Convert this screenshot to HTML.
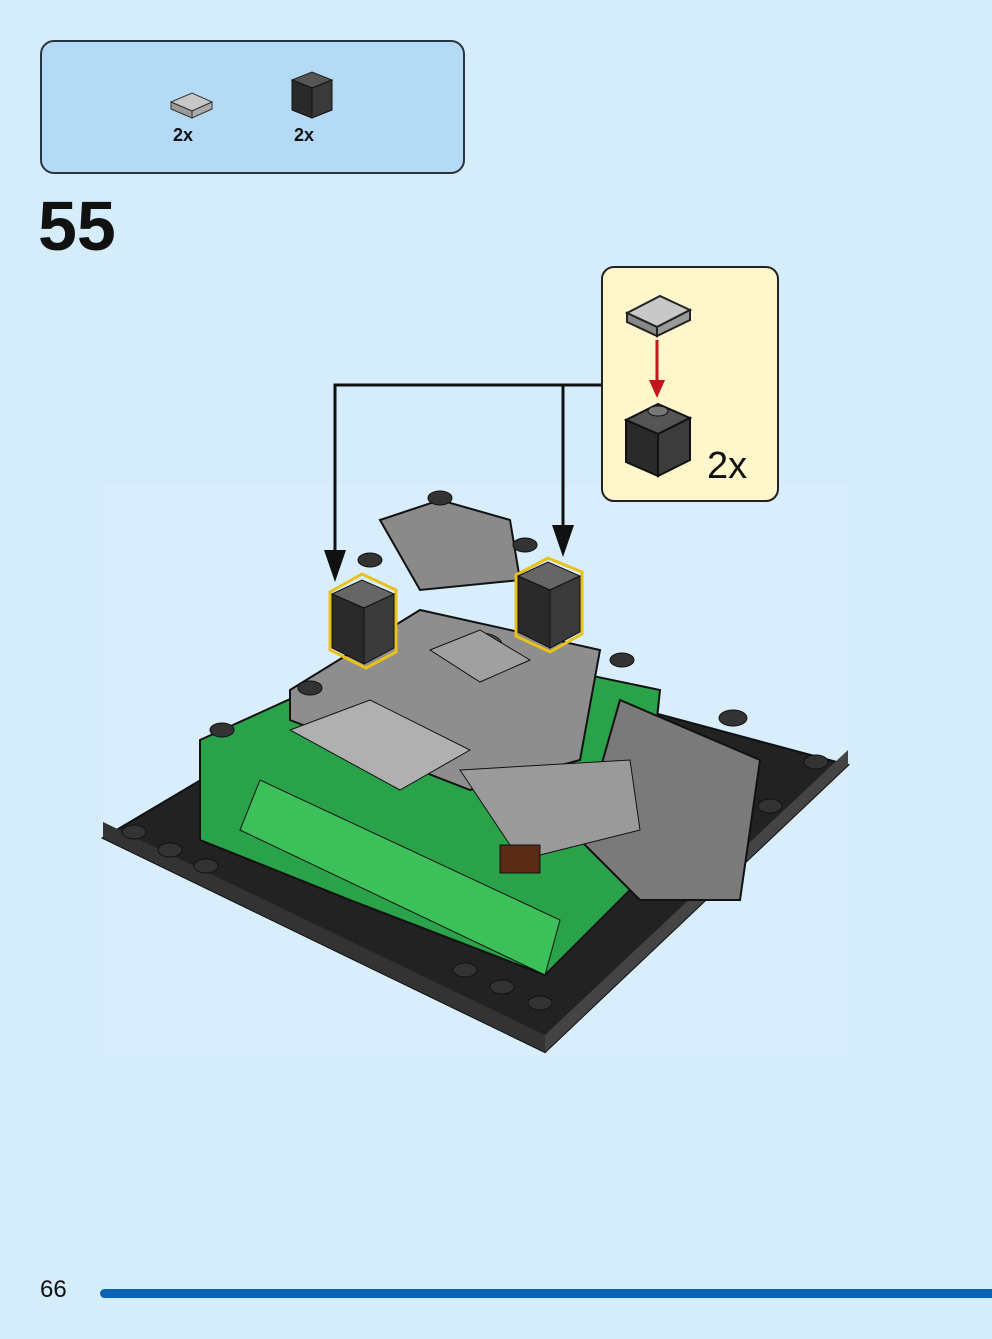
<!DOCTYPE html>
<html><head><meta charset="utf-8"><style>
html,body{margin:0;padding:0;}
body{width:992px;height:1339px;background:#d5ecfb;position:relative;overflow:hidden;font-family:"Liberation Sans",sans-serif;}
.parts{position:absolute;left:40px;top:40px;width:421px;height:130px;background:#b4daf6;border:2px solid #2a3440;border-radius:14px;}
.num{position:absolute;left:38px;top:186px;font-size:70px;font-weight:bold;color:#111;}
.pg{position:absolute;left:40px;top:1276px;font-size:24px;color:#111;}
.bar{position:absolute;left:100px;top:1289px;width:892px;height:9px;background:#0b62b4;border-radius:5px 0 0 5px;}
</style></head><body>
<div class="parts"></div>
<div class="num">55</div>
<div class="pg">66</div>
<div class="bar"></div>
<svg width="992" height="1339" style="position:absolute;left:0;top:0">
<rect x="103" y="485" width="745" height="570" fill="#d9eefc"/>
<!-- parts list icons -->
<polygon points="171,102 192,93 212,102 192,111" fill="#c8c8c8" stroke="#333"/>
<polygon points="171,102 192,111 192,118 171,109" fill="#999" stroke="#333"/>
<polygon points="192,111 212,102 212,109 192,118" fill="#aaa" stroke="#333"/>
<text x="183" y="141" font-size="18" font-weight="bold" text-anchor="middle" fill="#111">2x</text>
<polygon points="292,80 312,72 332,80 312,88" fill="#555" stroke="#222"/>
<polygon points="292,80 312,88 312,118 292,110" fill="#2a2a2a" stroke="#111"/>
<polygon points="312,88 332,80 332,110 312,118" fill="#3a3a3a" stroke="#111"/>
<text x="304" y="141" font-size="18" font-weight="bold" text-anchor="middle" fill="#111">2x</text>
<!-- callout -->
<rect x="602" y="267" width="176" height="234" rx="12" fill="#fff6cc" stroke="#222" stroke-width="2"/>
<polygon points="627,313 660,296 690,310 657,327" fill="#c8c8c8" stroke="#222" stroke-width="2"/>
<polygon points="627,313 657,327 657,336 627,322" fill="#888" stroke="#222" stroke-width="2"/>
<polygon points="657,327 690,310 690,320 657,336" fill="#9a9a9a" stroke="#222" stroke-width="2"/>
<line x1="657" y1="340" x2="657" y2="385" stroke="#c0161c" stroke-width="3"/>
<polygon points="649,380 665,380 657,398" fill="#c0161c"/>
<polygon points="626,420 658,404 690,418 658,434" fill="#555" stroke="#111" stroke-width="2"/>
<ellipse cx="658" cy="411" rx="10" ry="5" fill="#777" stroke="#111"/>
<polygon points="626,420 658,434 658,476 626,462" fill="#2a2a2a" stroke="#111" stroke-width="2"/>
<polygon points="658,434 690,418 690,460 658,476" fill="#3c3c3c" stroke="#111" stroke-width="2"/>
<text x="707" y="478" font-size="38" fill="#111">2x</text>
<!-- connector lines -->
<polyline points="601,385 335,385 335,560" fill="none" stroke="#111" stroke-width="3"/>
<line x1="563" y1="385" x2="563" y2="535" stroke="#111" stroke-width="3"/>
<polygon points="324,550 346,550 335,582" fill="#111"/>
<polygon points="552,525 574,525 563,557" fill="#111"/>
<!-- model base -->
<polygon points="103,838 420,650 848,765 545,1052" fill="#222" stroke="#111" stroke-width="2"/>
<polygon points="103,838 545,1052 545,1035 103,822" fill="#333"/>
<polygon points="545,1052 848,765 848,750 545,1035" fill="#444"/>
<!-- green body -->
<polygon points="200,740 420,640 660,690 640,880 545,975 350,900 200,840" fill="#2aa24a" stroke="#111" stroke-width="2"/>
<polygon points="240,830 545,975 560,920 260,780" fill="#3bc05a" stroke="#111"/>
<!-- gray top -->
<polygon points="290,690 420,610 600,650 580,760 470,790 290,720" fill="#8e8e8e" stroke="#111" stroke-width="2"/>
<polygon points="290,730 370,700 470,750 400,790" fill="#b0b0b0" stroke="#111"/>
<polygon points="380,520 440,500 510,520 520,580 420,590" fill="#8a8a8a" stroke="#111" stroke-width="2"/>
<polygon points="620,700 760,760 740,900 640,900 580,840" fill="#7a7a7a" stroke="#111" stroke-width="2"/>
<polygon points="460,770 630,760 640,830 520,860" fill="#9a9a9a" stroke="#111"/>
<ellipse cx="480" cy="645" rx="22" ry="12" fill="#555" stroke="#111"/>
<polygon points="430,650 480,630 530,660 480,682" fill="#a0a0a0" stroke="#111"/>
<!-- highlighted bricks -->
<polygon points="330,592 362,574 396,590 396,652 366,668 330,650" fill="none" stroke="#e8c21a" stroke-width="3"/>
<polygon points="332,594 362,580 394,594 364,608" fill="#666" stroke="#111"/>
<polygon points="332,594 364,608 364,664 332,648" fill="#2a2a2a" stroke="#111"/>
<polygon points="364,608 394,594 394,648 364,664" fill="#3a3a3a" stroke="#111"/>
<polygon points="516,575 548,558 582,572 582,634 550,652 516,636" fill="none" stroke="#e8c21a" stroke-width="3"/>
<polygon points="518,576 548,562 580,576 550,590" fill="#666" stroke="#111"/>
<polygon points="518,576 550,590 550,648 518,632" fill="#2a2a2a" stroke="#111"/>
<polygon points="550,590 580,576 580,632 550,648" fill="#3a3a3a" stroke="#111"/>
<!-- studs -->
<g fill="#333" stroke="#111">
<ellipse cx="134" cy="832" rx="12" ry="7"/><ellipse cx="170" cy="850" rx="12" ry="7"/><ellipse cx="206" cy="866" rx="12" ry="7"/>
<ellipse cx="465" cy="970" rx="12" ry="7"/><ellipse cx="502" cy="987" rx="12" ry="7"/><ellipse cx="540" cy="1003" rx="12" ry="7"/>
<ellipse cx="770" cy="806" rx="12" ry="7"/><ellipse cx="816" cy="762" rx="12" ry="7"/><ellipse cx="622" cy="660" rx="12" ry="7"/>
<ellipse cx="733" cy="718" rx="14" ry="8"/><ellipse cx="310" cy="688" rx="12" ry="7"/><ellipse cx="222" cy="730" rx="12" ry="7"/>
<ellipse cx="440" cy="498" rx="12" ry="7"/><ellipse cx="370" cy="560" rx="12" ry="7"/><ellipse cx="525" cy="545" rx="12" ry="7"/>
</g>
<rect x="500" y="845" width="40" height="28" fill="#5a2a14" stroke="#111"/>
</svg>
</body></html>
